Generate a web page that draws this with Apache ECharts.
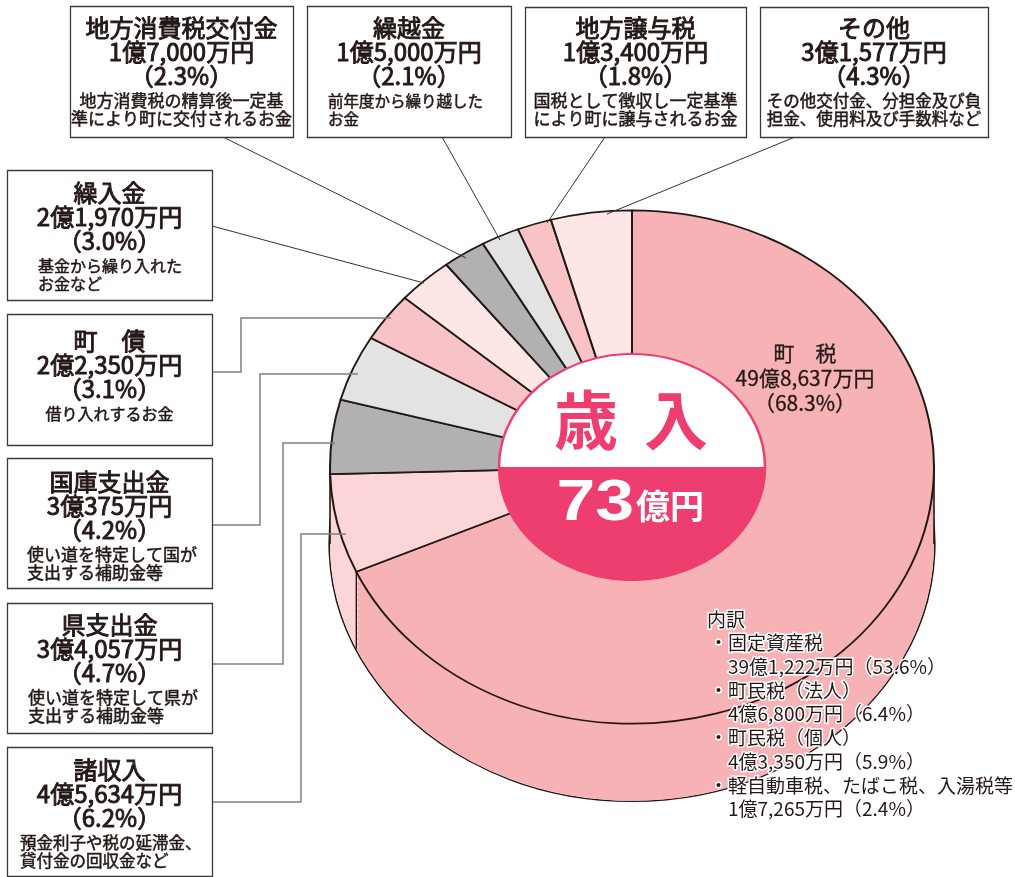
<!DOCTYPE html>
<html>
<head>
<meta charset="utf-8">
<script src="https://cdn.jsdelivr.net/npm/echarts@6.0.0/dist/echarts.min.js"></script>
<style>
html, body { margin: 0; padding: 0; background: #ffffff; overflow: hidden; }
/* 円グラフは縦に潰して楕円にする */
#pie { position: absolute; left: 0; top: 0; width: 1015px; height: 1032px; transform: scaleY(0.85); transform-origin: 0 0; }
#main { position: absolute; left: 0; top: 0; width: 1015px; height: 877px; }
</style>
</head>
<body>
<div id="pie"></div>
<div id="main"></div>
<script>
// 歳入の内訳（単位：万円）
var categories = ["町　税", "諸収入", "県支出金", "国庫支出金", "町　債", "繰入金", "地方消費税交付金", "繰越金", "地方譲与税", "その他"];
var values = [498637, 45634, 34057, 30375, 22350, 21970, 17000, 15000, 13400, 31577];
var shares = ["68.3", "6.2", "4.7", "4.2", "3.1", "3.0", "2.3", "2.1", "1.8", "4.3"];
var notes = [
  [],
  ["預金利子や税の延滞金、", "貸付金の回収金など"],
  ["使い道を特定して県が", "支出する補助金等"],
  ["使い道を特定して国が", "支出する補助金等"],
  ["借り入れするお金"],
  ["基金から繰り入れた", "お金など"],
  ["地方消費税の精算後一定基", "準により町に交付されるお金"],
  ["前年度から繰り越した", "お金"],
  ["国税として徴収し一定基準", "により町に譲与されるお金"],
  ["その他交付金、分担金及び負", "担金、使用料及び手数料など"]
];
// 町税の内訳
var taxNames = ["固定資産税", "町民税（法人）", "町民税（個人）", "軽自動車税、たばこ税、入湯税等"];
var taxValues = [391222, 46800, 43350, 17265];
var taxShares = ["53.6", "6.4", "5.9", "2.4"];

var sliceColors = ["#f7b2b6", "#fbd5d7", "#b1b1b1", "#e3e3e3", "#f8c3c6", "#fde6e6", "#b1b1b1", "#e3e3e3", "#f8c3c6", "#fde6e6"];
var CRIMSON = "#ee3d6f";
var INK = "#231815";
var FONT = "'Noto Sans CJK JP', sans-serif";

var TILT = 0.85, CX = 632, CY = 467, R = 302, DEPTH = 77, INNER = 133;
var cyU = CY / TILT, depthU = DEPTH / TILT;

var total = values.reduce(function (a, b) { return a + b; }, 0);

function yen(v) {
  var oku = Math.floor(v / 10000), man = v % 10000;
  return (oku ? oku + "億" : "") + (man ? man.toLocaleString("en-US") + "万" : "") + "円";
}

function pieData() {
  return categories.map(function (c, i) {
    return { name: c, value: values[i], itemStyle: { color: sliceColors[i] } };
  });
}

// ---- 円グラフ本体（立体） ----
var series = [];
series.push({
  type: "pie", silent: true, center: [CX, cyU + depthU], radius: R + 0.8,
  data: [{ name: "outline", value: total }],
  itemStyle: { color: "transparent", borderColor: INK, borderWidth: 1.6 },
  label: { show: false }, labelLine: { show: false }
});
var N = 14;
for (var k = N; k >= 1; k--) {
  series.push({
    type: "pie", silent: true, center: [CX, cyU + depthU * k / N], radius: R,
    data: pieData(), itemStyle: { borderWidth: 0 },
    label: { show: false }, labelLine: { show: false }
  });
}
series.push({
  type: "pie", silent: true, center: [CX, cyU], radius: R,
  data: pieData(), itemStyle: { borderColor: INK, borderWidth: 2 },
  label: { show: false }, labelLine: { show: false }
});

// 側面の縦線（町税の終わり）
var theta = 2 * Math.PI * values[0] / total;
var bx = CX + R * Math.sin(theta), by = cyU - R * Math.cos(theta);

var pieChart = echarts.init(document.getElementById("pie"), null, { renderer: "svg" });
pieChart.setOption({
  animation: false,
  series: series,
  graphic: [
    { type: "line", z: 50, shape: { x1: CX - R, y1: cyU, x2: CX - R, y2: cyU + depthU }, style: { stroke: INK, lineWidth: 1.6 } },
    { type: "line", z: 50, shape: { x1: CX + R, y1: cyU, x2: CX + R, y2: cyU + depthU }, style: { stroke: INK, lineWidth: 1.6 } },
    { type: "line", z: 50, shape: { x1: bx, y1: by, x2: bx, y2: by + depthU }, style: { stroke: INK, lineWidth: 1.4 } },
    { type: "sector", z: 60, shape: { cx: CX, cy: cyU, r: INNER, startAngle: Math.PI, endAngle: Math.PI * 2 }, style: { fill: "#ffffff" } },
    { type: "sector", z: 60, shape: { cx: CX, cy: cyU, r: INNER, startAngle: 0, endAngle: Math.PI }, style: { fill: CRIMSON } },
    { type: "circle", z: 61, shape: { cx: CX, cy: cyU, r: INNER }, style: { fill: "none", stroke: CRIMSON, lineWidth: 2.5 } }
  ]
});

// ---- 文字・枠・引出線 ----
function txt(x, y, s, size, opt) {
  opt = opt || {};
  var st = {
    text: s, x: 0, y: 0,
    fill: opt.color || INK,
    font: (opt.weight || "normal") + " " + size + "px " + (opt.family || FONT),
    textAlign: opt.align || "center",
    textVerticalAlign: "middle",
    verticalAlign: "middle"
  };
  if (opt.halo) { st.stroke = "#ffffff"; st.lineWidth = 3; }
  else if (opt.thick) { st.stroke = opt.color || INK; st.lineWidth = opt.thick; }
  return { type: "text", x: x, y: y, z: 20, scaleX: opt.sx || 1, style: st };
}

var boxLayout = {
  6: { x: 70, y: 6, w: 223, h: 131, t: 28, note: 17 },
  7: { x: 307, y: 6, w: 204, h: 131, t: 28, note: 15.5, noteX: 328 },
  8: { x: 525, y: 7, w: 221, h: 130, t: 28, note: 17 },
  9: { x: 760, y: 7, w: 228, h: 130, t: 28, note: 16.5 },
  5: { x: 7, y: 170, w: 205, h: 130, t: 193, note: 16, noteX: 38 },
  4: { x: 7, y: 314, w: 205, h: 131, t: 341, note: 16 },
  3: { x: 7, y: 458, w: 205, h: 130, t: 482, note: 17, noteX: 27 },
  2: { x: 7, y: 603, w: 205, h: 130, t: 625, note: 17, noteX: 28 },
  1: { x: 7, y: 747, w: 205, h: 129, t: 770, note: 16.5, noteX: 20 }
};

var leaders = {
  6: { pts: [[223, 137], [466, 258]], thin: true },
  7: { pts: [[442, 137], [500, 240]], thin: true },
  8: { pts: [[605, 137], [547, 223]], thin: true },
  9: { pts: [[795, 137], [607, 214]], thin: true },
  5: { pts: [[212, 226], [424, 283]], thin: true },
  4: { pts: [[212, 372], [241, 372], [241, 318], [391, 318]] },
  3: { pts: [[212, 525], [260, 525], [260, 374], [358, 374]] },
  2: { pts: [[212, 664], [283, 664], [283, 443], [335, 443]] },
  1: { pts: [[212, 802], [301, 802], [301, 534], [346, 534]] }
};

var g = [];
Object.keys(leaders).forEach(function (i) {
  var L = leaders[i];
  g.push({ type: "polyline", z: 5, shape: { points: L.pts },
    style: { fill: "none", stroke: L.thin ? "#333333" : "#808080", lineWidth: L.thin ? 1 : 1.5 } });
});

Object.keys(boxLayout).forEach(function (key) {
  var i = +key, b = boxLayout[key];
  var mid = b.x + b.w / 2;
  g.push({ type: "rect", z: 10, shape: { x: b.x + 0.5, y: b.y + 0.5, width: b.w, height: b.h },
    style: { fill: "#ffffff", stroke: "#3a3a3a", lineWidth: 1.3 } });
  g.push(txt(mid, b.t, categories[i], 24, { thick: 0.9 }));
  g.push(txt(mid, b.t + 23.5, yen(values[i]), 24, { thick: 0.9 }));
  g.push(txt(mid, b.t + 47.5, "（" + shares[i] + "%）", 24, { thick: 0.9 }));
  notes[i].forEach(function (line, j) {
    var y = b.t + 73 + j * 18;
    if (b.noteX) g.push(txt(b.noteX, y, line, b.note, { align: "left", thick: 0.5 }));
    else g.push(txt(mid, y, line, b.note, { thick: 0.5 }));
  });
});

// 町税ラベル
g.push(txt(805, 353, categories[0], 21, { thick: 0.3 }));
g.push(txt(805, 378, yen(values[0]), 21, { thick: 0.3 }));
g.push(txt(805, 403, "（" + shares[0] + "%）", 21, { thick: 0.3 }));

// 内訳
g.push(txt(707, 620, "内訳", 19, { align: "left", halo: true }));
taxNames.forEach(function (n, j) {
  var y = 643 + j * 47.5;
  g.push(txt(709, y, "・" + n, 19, { align: "left", halo: true }));
  g.push(txt(728, y + 23.5, yen(taxValues[j]) + "（" + taxShares[j] + "%）", 19, { align: "left", halo: true }));
});

// 中央の表示
g.push(txt(586, 420, "歳", 64, { weight: "bold", color: CRIMSON }));
g.push(txt(676, 420, "入", 64, { weight: "bold", color: CRIMSON }));
g.push(txt(634, 504, String(Math.floor(total / 10000)), 58,
  { weight: "bold", color: "#ffffff", align: "right", family: "'Liberation Sans', Arial, sans-serif", sx: 1.2 }));
g.push(txt(636, 506, "億円", 34, { weight: "bold", color: "#ffffff", align: "left" }));

var chart = echarts.init(document.getElementById("main"));
chart.setOption({ animation: false, graphic: g });
</script>
</body>
</html>
